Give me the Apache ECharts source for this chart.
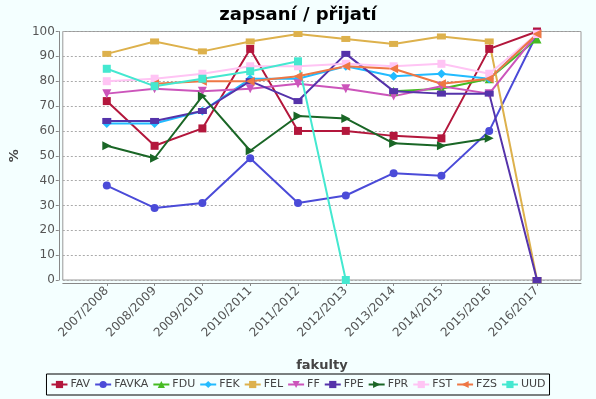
<!DOCTYPE html>
<html>
<head>
<meta charset="utf-8">
<script src="https://cdn.jsdelivr.net/npm/echarts@6/dist/echarts.min.js"></script>
<style>
  html, body { margin: 0; padding: 0; background: #f4ffff; }
  #chart { width: 596px; height: 399px; }
</style>
</head>
<body>
<div id="chart"></div>
<script>
var years = ['2007/2008', '2008/2009', '2009/2010', '2010/2011', '2011/2012',
             '2012/2013', '2013/2014', '2014/2015', '2015/2016', '2016/2017'];

var FAV   = [72, 54, 61, 93, 60, 60, 58, 57, 93, 100];
var FAVKA = [38, 29, 31, 49, 31, 34, 43, 42, 60, 99];
var FDU   = [null, null, null, null, null, null, 76, 77, 81, 97];
var FEK   = [63, 63, 68, 81, 81, 86, 82, 83, 81, 99];
var FEL   = [91, 96, 92, 96, 99, 97, 95, 98, 96, 0];
var FF    = [75, 77, 76, 77, 79, 77, 74, 78, 75, 99];
var FPE   = [64, 64, 68, 80, 72, 91, 76, 75, 75, 0];
var FPR   = [54, 49, 74, 52, 66, 65, 55, 54, 57, null];
var FST   = [80, 81, 83, 86, 86, 87, 86, 87, 83, 99];
var FZS   = [null, 79, 80, 80, 82, 86, 85, 79, 81, 99];
var UUD   = [85, 78, 81, 84, 88, 0, null, null, null, null];

// name, data, colour, symbol, size, rotate
var defs = [
  ['FAV', FAV, '#b3173c', 'rect', 8, 0],
  ['FAVKA', FAVKA, '#4b4bd8', 'circle', 8, 0],
  ['FDU', FDU, '#44bb22', 'triangle', 9, 0],
  ['FEK', FEK, '#22bbff', 'diamond', 9, 0],
  ['FEL', FEL, '#ddb14c', 'rect', [9, 6], 0],
  ['FF', FF, '#cc55bb', 'triangle', 9, 180],
  ['FPE', FPE, '#5533aa', 'rect', [9, 6], 0],
  ['FPR', FPR, '#1a6626', 'triangle', 9, -90],
  ['FST', FST, '#ffc4f4', 'rect', 8, 0],
  ['FZS', FZS, '#ee7744', 'triangle', 9, 90],
  ['UUD', UUD, '#44e8d0', 'rect', 8, 0]
];

var series = defs.map(function (d) {
  return {
    name: d[0],
    type: 'line',
    data: d[1].map(function (v, i) { return [i, v]; }),
    symbol: d[3],
    symbolSize: d[4],
    symbolRotate: d[5],
    showSymbol: true,
    lineStyle: { width: 2, color: d[2] },
    itemStyle: { color: d[2] },
    emphasis: { disabled: true },
    animation: false
  };
});

var idx = years.map(function (y, i) { return i; });

var chart = echarts.init(document.getElementById('chart'));
chart.setOption({
  backgroundColor: '#f4ffff',
  textStyle: { fontFamily: 'DejaVu Sans' },
  title: {
    text: 'zapsaní / přijatí',
    left: 'center',
    top: 1,
    textStyle: { fontFamily: 'DejaVu Sans', fontSize: 18, fontWeight: 'bold', color: '#000' }
  },
  grid: {
    left: 56.5, top: 31.5, right: 15, bottom: 119,
    show: true, backgroundColor: '#fff', borderColor: '#999', borderWidth: 1
  },
  legend: {
    left: 'center',
    top: 374,
    orient: 'horizontal',
    borderColor: '#000',
    borderWidth: 1,
    padding: [5, 4],
    itemGap: 4,
    itemWidth: 16,
    itemHeight: 9,
    textStyle: { fontFamily: 'DejaVu Sans', fontSize: 11, color: '#444', padding: [0, 0, 0, -2] },
    data: defs.map(function (d) { return d[0]; })
  },
  xAxis: {
    type: 'value',
    min: -0.92,
    max: 9.92,
    interval: 1,
    offset: 3,
    name: 'fakulty',
    nameLocation: 'middle',
    nameGap: 76,
    nameTextStyle: { fontFamily: 'DejaVu Sans', fontSize: 13, fontWeight: 'bold', color: '#444' },
    axisLine: { onZero: false, lineStyle: { color: '#888' } },
    axisTick: { length: 3, lineStyle: { color: '#888' }, customValues: idx },
    splitLine: { show: false },
    axisLabel: {
      customValues: idx,
      rotate: 45,
      margin: 6,
      fontSize: 12,
      color: '#555',
      formatter: function (v) { return years[Math.round(v)] || ''; }
    }
  },
  yAxis: {
    type: 'value',
    min: 0,
    max: 100,
    interval: 10,
    offset: 4,
    name: '%',
    nameLocation: 'middle',
    nameRotate: 90,
    nameGap: 36,
    nameTextStyle: { fontFamily: 'DejaVu Sans', fontSize: 13, fontWeight: 'bold', color: '#444' },
    axisLine: { show: true, onZero: false, lineStyle: { color: '#888' } },
    axisTick: { show: true, length: 3, lineStyle: { color: '#888' } },
    axisLabel: { fontSize: 12, color: '#555', margin: 4 },
    splitLine: { show: true, lineStyle: { color: '#aaa', type: [2, 2] } }
  },
  series: series
});
</script>
</body>
</html>
